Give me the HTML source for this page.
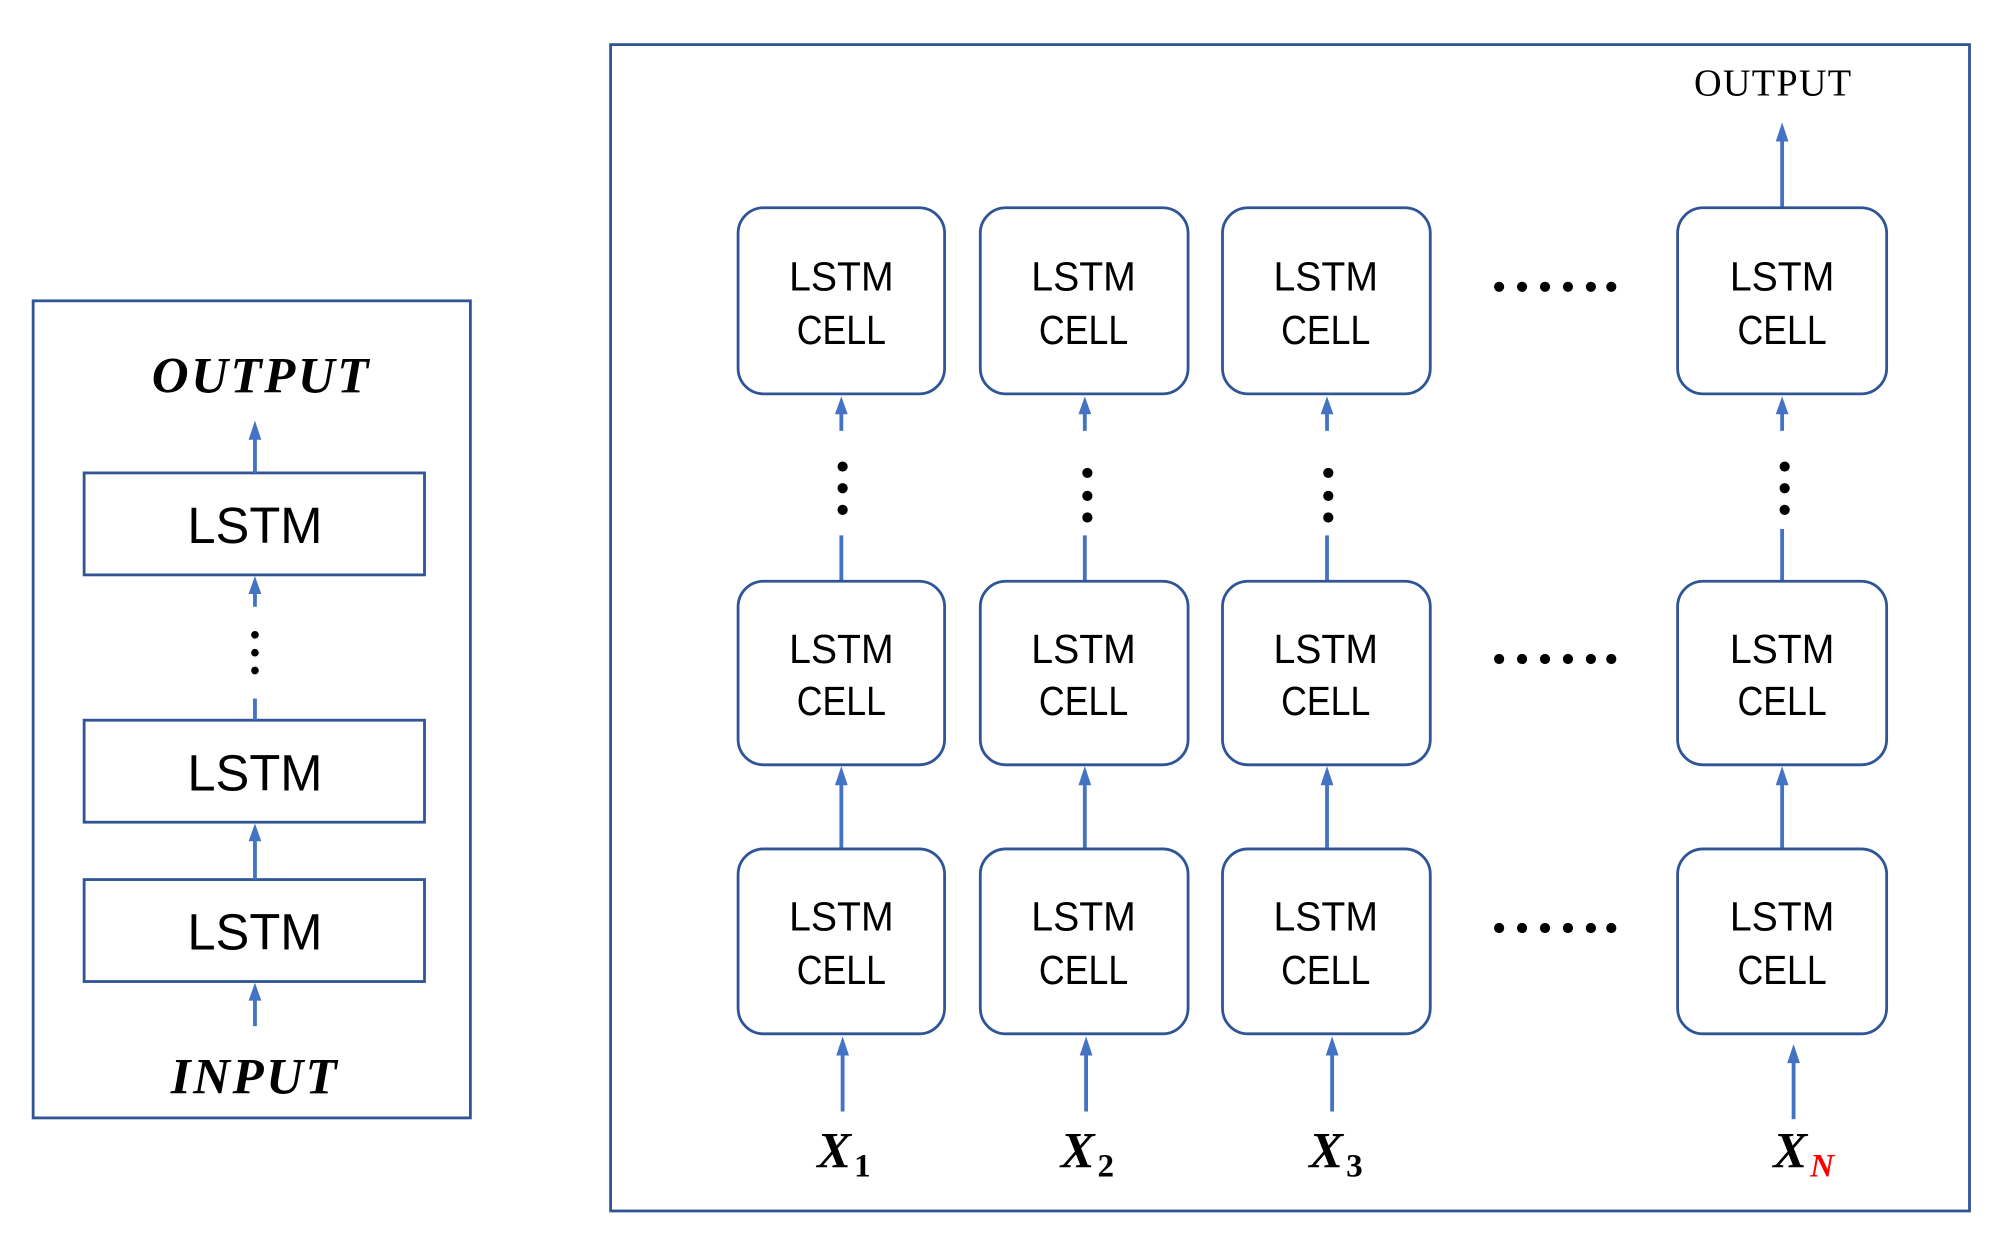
<!DOCTYPE html>
<html><head><style>html,body{margin:0;padding:0;background:#fff}svg{display:block}</style></head><body>
<svg width="1995" height="1251" viewBox="0 0 1565 981.4" preserveAspectRatio="none" xmlns="http://www.w3.org/2000/svg">
<g fill="none" stroke="#2F5597" stroke-width="2.2">
<rect x="26" y="236" width="343" height="641"/>
<rect x="479" y="35" width="1066" height="915"/>
<rect x="66" y="371" width="267" height="80"/>
<rect x="66" y="565" width="267" height="80"/>
<rect x="66" y="690" width="267" height="80"/>
</g>
<g stroke="#4472C4" stroke-width="3" fill="none">
<line x1="200" y1="371" x2="200" y2="340"/>
<line x1="200" y1="476" x2="200" y2="460"/>
<line x1="200" y1="548" x2="200" y2="565"/>
<line x1="200" y1="690" x2="200" y2="655"/>
<line x1="200" y1="805" x2="200" y2="780"/>
<line x1="1398" y1="163" x2="1398" y2="108"/>
<line x1="660" y1="338" x2="660" y2="320"/><line x1="660" y1="420" x2="660" y2="456"/>
<line x1="851" y1="338" x2="851" y2="320"/><line x1="851" y1="420" x2="851" y2="456"/>
<line x1="1041" y1="338" x2="1041" y2="320"/><line x1="1041" y1="420" x2="1041" y2="456"/>
<line x1="1398" y1="338" x2="1398" y2="320"/><line x1="1398" y1="415" x2="1398" y2="456"/>
<line x1="660" y1="666" x2="660" y2="612"/>
<line x1="851" y1="666" x2="851" y2="612"/>
<line x1="1041" y1="666" x2="1041" y2="612"/>
<line x1="1398" y1="666" x2="1398" y2="612"/>
<line x1="661" y1="872" x2="661" y2="824"/>
<line x1="852" y1="872" x2="852" y2="824"/>
<line x1="1045" y1="872" x2="1045" y2="824"/>
<line x1="1407" y1="878" x2="1407" y2="830"/>
</g>
<g fill="#4472C4">
<polygon points="195,345 200,330 205,345"/>
<polygon points="195,466 200,452 205,466"/>
<polygon points="195,660 200,646 205,660"/>
<polygon points="195,785 200,771 205,785"/>
<polygon points="1393,111 1398,96 1403,111"/>
<polygon points="655,325 660,311 665,325"/><polygon points="846,325 851,311 856,325"/><polygon points="1036,325 1041,311 1046,325"/><polygon points="1393,325 1398,311 1403,325"/>
<polygon points="655,616 660,601 665,616"/><polygon points="846,616 851,601 856,616"/><polygon points="1036,616 1041,601 1046,616"/><polygon points="1393,616 1398,601 1403,616"/>
<polygon points="656,828 661,813 666,828"/><polygon points="847,828 852,813 857,828"/><polygon points="1040,828 1045,813 1050,828"/><polygon points="1402,834 1407,819 1412,834"/>
</g>
<g fill="#000"><circle cx="200" cy="498" r="3"/><circle cx="200" cy="512" r="3"/><circle cx="200" cy="526" r="3"/></g>
<g font-family="Liberation Sans, sans-serif" font-size="40" text-anchor="middle" fill="#000">
<text x="200" y="426" textLength="106" lengthAdjust="spacingAndGlyphs">LSTM</text><text x="200" y="620" textLength="106" lengthAdjust="spacingAndGlyphs">LSTM</text><text x="200" y="745" textLength="106" lengthAdjust="spacingAndGlyphs">LSTM</text>
</g>
<g font-family="Liberation Serif, serif" font-weight="bold" font-style="italic" font-size="40" text-anchor="middle" fill="#000" letter-spacing="2">
<text x="205" y="308">OUTPUT</text><text x="200" y="858">INPUT</text>
</g>
<text x="1391" y="75" font-family="Liberation Serif, serif" font-size="30" text-anchor="middle" letter-spacing="1">OUTPUT</text>
<g fill="none" stroke="#2F5597" stroke-width="2.2">
<rect x="579" y="163" width="162" height="146" rx="20"/><rect x="769" y="163" width="163" height="146" rx="20"/><rect x="959" y="163" width="163" height="146" rx="20"/><rect x="1316" y="163" width="164" height="146" rx="20"/>
<rect x="579" y="456" width="162" height="144" rx="20"/><rect x="769" y="456" width="163" height="144" rx="20"/><rect x="959" y="456" width="163" height="144" rx="20"/><rect x="1316" y="456" width="164" height="144" rx="20"/>
<rect x="579" y="666" width="162" height="145" rx="20"/><rect x="769" y="666" width="163" height="145" rx="20"/><rect x="959" y="666" width="163" height="145" rx="20"/><rect x="1316" y="666" width="164" height="145" rx="20"/>
</g>
<g fill="#000">
<circle cx="661" cy="366" r="4"/><circle cx="661" cy="383" r="4"/><circle cx="661" cy="400" r="4"/>
<circle cx="853" cy="371" r="4"/><circle cx="853" cy="389" r="4"/><circle cx="853" cy="406" r="4"/>
<circle cx="1042" cy="371" r="4"/><circle cx="1042" cy="389" r="4"/><circle cx="1042" cy="406" r="4"/>
<circle cx="1400" cy="366" r="4"/><circle cx="1400" cy="383" r="4"/><circle cx="1400" cy="400" r="4"/>
<g id="d"><circle cx="1176" cy="225" r="4"/><circle cx="1194" cy="225" r="4"/><circle cx="1212" cy="225" r="4"/><circle cx="1230" cy="225" r="4"/><circle cx="1248" cy="225" r="4"/><circle cx="1264" cy="225" r="4"/></g>
<use href="#d" y="292"/><use href="#d" y="503"/>
</g>
<g font-family="Liberation Sans, sans-serif" font-size="32" text-anchor="middle" fill="#000">
<text x="660" y="228" textLength="82" lengthAdjust="spacingAndGlyphs">LSTM</text><text x="660" y="270" textLength="70" lengthAdjust="spacingAndGlyphs">CELL</text>
<text x="850" y="228" textLength="82" lengthAdjust="spacingAndGlyphs">LSTM</text><text x="850" y="270" textLength="70" lengthAdjust="spacingAndGlyphs">CELL</text>
<text x="1040" y="228" textLength="82" lengthAdjust="spacingAndGlyphs">LSTM</text><text x="1040" y="270" textLength="70" lengthAdjust="spacingAndGlyphs">CELL</text>
<text x="1398" y="228" textLength="82" lengthAdjust="spacingAndGlyphs">LSTM</text><text x="1398" y="270" textLength="70" lengthAdjust="spacingAndGlyphs">CELL</text>
<text x="660" y="520" textLength="82" lengthAdjust="spacingAndGlyphs">LSTM</text><text x="660" y="561" textLength="70" lengthAdjust="spacingAndGlyphs">CELL</text>
<text x="850" y="520" textLength="82" lengthAdjust="spacingAndGlyphs">LSTM</text><text x="850" y="561" textLength="70" lengthAdjust="spacingAndGlyphs">CELL</text>
<text x="1040" y="520" textLength="82" lengthAdjust="spacingAndGlyphs">LSTM</text><text x="1040" y="561" textLength="70" lengthAdjust="spacingAndGlyphs">CELL</text>
<text x="1398" y="520" textLength="82" lengthAdjust="spacingAndGlyphs">LSTM</text><text x="1398" y="561" textLength="70" lengthAdjust="spacingAndGlyphs">CELL</text>
<text x="660" y="730" textLength="82" lengthAdjust="spacingAndGlyphs">LSTM</text><text x="660" y="772" textLength="70" lengthAdjust="spacingAndGlyphs">CELL</text>
<text x="850" y="730" textLength="82" lengthAdjust="spacingAndGlyphs">LSTM</text><text x="850" y="772" textLength="70" lengthAdjust="spacingAndGlyphs">CELL</text>
<text x="1040" y="730" textLength="82" lengthAdjust="spacingAndGlyphs">LSTM</text><text x="1040" y="772" textLength="70" lengthAdjust="spacingAndGlyphs">CELL</text>
<text x="1398" y="730" textLength="82" lengthAdjust="spacingAndGlyphs">LSTM</text><text x="1398" y="772" textLength="70" lengthAdjust="spacingAndGlyphs">CELL</text>
</g>
<g font-family="Liberation Serif, serif" font-weight="bold" font-size="40" fill="#000">
<text x="641" y="916" font-style="italic">X</text><text x="670" y="923" font-size="26">1</text>
<text x="832" y="916" font-style="italic">X</text><text x="861" y="923" font-size="26">2</text>
<text x="1027" y="916" font-style="italic">X</text><text x="1056" y="923" font-size="26">3</text>
<text x="1391" y="916" font-style="italic">X</text><text x="1420" y="923" font-size="26" font-style="italic" fill="#FF0000">N</text>
</g>
</svg>
</body></html>
